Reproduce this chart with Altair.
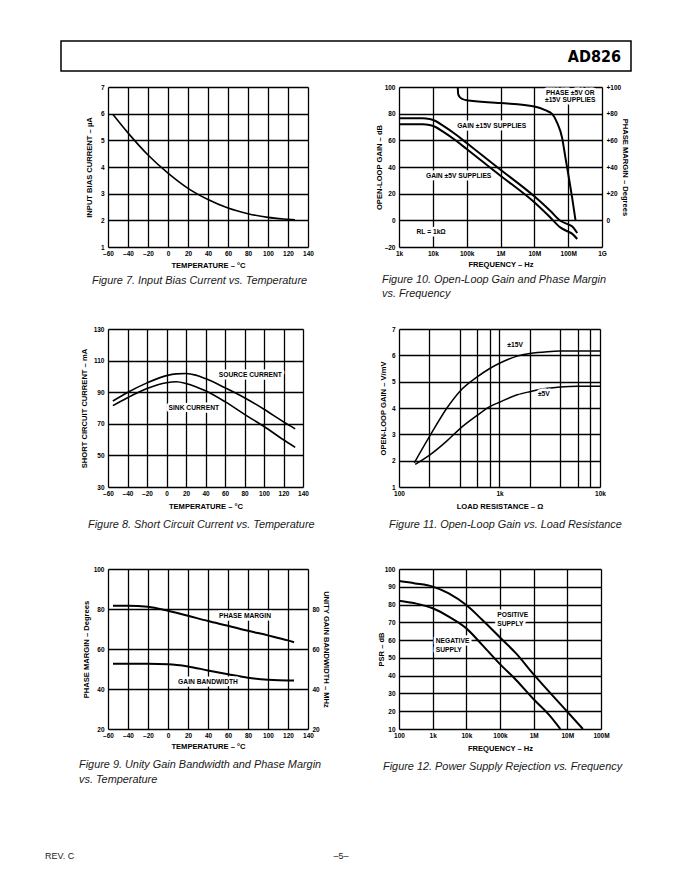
import altair as alt
import pandas as pd

FONT = "Liberation Sans"

# ---------------- page text ----------------
HEADER_TEXT = "AD826"
FOOTER_LEFT = "REV. C"
FOOTER_CENTER = "–5–"

# ---------------- shared temperature axis ----------------
TEMP_TICKS = [-60, -40, -20, 0, 20, 40, 60, 80, 100, 120, 140]
TEMP_LABELS = ["–60", "–40", "–20", "0", "20", "40", "60", "80", "100", "120", "140"]

# ---------------- Figure 7 ----------------
F7_TEMP = [-55, -40, -20, 0, 20, 40, 60, 80, 100, 120, 127]
F7_IB = [5.97, 5.28, 4.45, 3.77, 3.2, 2.78, 2.46, 2.25, 2.11, 2.04, 2.02]
F7_Y_TICKS = [1, 2, 3, 4, 5, 6, 7]
F7_Y_LABELS = ["1", "2", "3", "4", "5", "6", "7"]
F7_CAPTION = ["Figure 7.  Input Bias Current vs. Temperature"]

# ---------------- Figure 10 ----------------
F10_FREQ = [1e3, 5e3, 8e3, 1.2e4, 2e4, 5e4, 1e5, 1e6, 1e7, 3e7, 6e7, 1e8, 1.3e8, 1.85e8]
F10_GAIN_15V = [76.5, 76.5, 76, 74.5, 71, 64, 58, 38, 18, 7, -0.5, -3, -4.5, -9.5]
F10_GAIN_5V = [72, 72, 71.5, 70, 66.5, 59.5, 53.5, 33.5, 13.5, 2, -5.5, -8.5, -10, -14]
F10_PH_FREQ = [5.45e4, 5.6e4, 6.2e4, 7.5e4, 1e5, 1e6, 1e7, 2.1e7, 3.4e7, 4.7e7, 6.6e7, 8.3e7, 1.05e8, 1.31e8, 1.65e8]
F10_PHASE = [100, 95, 92.5, 91, 90, 88, 85.3, 82.6, 79.6, 73.3, 62, 47, 31.8, 17, 0]
F10_X_TICKS = [1e3, 1e4, 1e5, 1e6, 1e7, 1e8, 1e9]
F10_X_LABELS = ["1k", "10k", "100k", "1M", "10M", "100M", "1G"]
F10_Y_TICKS = [-20, 0, 20, 40, 60, 80, 100]
F10_Y_LABELS = ["–20", "0", "20", "40", "60", "80", "100"]
F10_Y2_LABELS = ["", "0", "+20", "+40", "+60", "+80", "+100"]
F10_NOTES = ["PHASE ±5V OR", "±15V SUPPLIES", "GAIN ±15V SUPPLIES", "GAIN ±5V SUPPLIES", "RL = 1kΩ"]
F10_NOTE_X = [1.15e8, 1.15e8, 5.5e5, 5.8e4, 8.9e3]
F10_NOTE_Y = [95.3, 90.2, 70.8, 33.1, -8.7]
F10_CAPTION = ["Figure 10.  Open-Loop Gain and Phase Margin", "vs. Frequency"]

# ---------------- Figure 8 ----------------
F8_TEMP = [-55, -40, -20, 0, 10, 20, 30, 40, 60, 80, 100, 120, 132]
F8_SOURCE = [84.4, 89.8, 95.9, 100.5, 101.6, 101.8, 100.8, 98.6, 92.8, 86.5, 79.2, 71.2, 66.8]
F8_SINK = [81.5, 86.5, 92.3, 96.0, 96.6, 95.5, 93.5, 90.9, 84.0, 76.0, 68.3, 59.9, 55.1]
F8_Y_TICKS = [30, 50, 70, 90, 110, 130]
F8_Y_LABELS = ["30", "50", "70", "90", "110", "130"]
F8_NOTES = ["SOURCE CURRENT", "SINK CURRENT"]
F8_NOTE_X = [86, 28]
F8_NOTE_Y = [100.8, 80]
F8_CAPTION = ["Figure 8.  Short Circuit Current vs. Temperature"]

# ---------------- Figure 11 ----------------
F11_R_15V = [142, 200, 300, 400, 600, 800, 1000, 1500, 2000, 3000, 4000, 10000]
F11_G_15V = [1.92, 2.9, 4.0, 4.62, 5.18, 5.5, 5.7, 5.97, 6.07, 6.14, 6.16, 6.16]
F11_R_5V = [145, 200, 300, 400, 600, 800, 1000, 1500, 2000, 3000, 4000, 6000, 10000]
F11_G_5V = [1.86, 2.2, 2.75, 3.2, 3.72, 4.05, 4.22, 4.5, 4.62, 4.75, 4.8, 4.83, 4.83]
F11_X_TICKS = [100, 200, 400, 600, 800, 1000, 2000, 4000, 6000, 8000, 10000]
F11_X_LABELS = ["100", "", "", "", "", "1k", "", "", "", "", "10k"]
F11_Y_TICKS = [1, 2, 3, 4, 5, 6, 7]
F11_Y_LABELS = ["1", "2", "3", "4", "5", "6", "7"]
F11_NOTES = ["±15V", "±5V"]
F11_NOTE_X = [1430, 2760]
F11_NOTE_Y = [6.4, 4.54]
F11_CAPTION = ["Figure 11.  Open-Loop Gain vs. Load Resistance"]

# ---------------- Figure 9 ----------------
F9_TEMP = [-55, -40, -20, 0, 20, 40, 60, 80, 100, 120, 126]
F9_PM = [81.6, 81.6, 81.1, 79.1, 76.6, 74.0, 71.6, 69.1, 66.8, 64.3, 63.4]
F9_GBW = [52.6, 52.6, 52.6, 52.4, 51.3, 49.3, 47.4, 45.6, 44.6, 44.2, 44.2]
F9_Y_TICKS = [20, 40, 60, 80, 100]
F9_Y_LABELS = ["20", "40", "60", "80", "100"]
F9_Y2_TICKS = [20, 40, 60, 80]
F9_Y2_LABELS = ["20", "40", "60", "80"]
F9_NOTES = ["PHASE MARGIN", "GAIN BANDWIDTH"]
F9_NOTE_X = [77, 40]
F9_NOTE_Y = [76.3, 43.5]
F9_CAPTION = ["Figure 9.  Unity Gain Bandwidth and Phase Margin", "vs. Temperature"]

# ---------------- Figure 12 ----------------
F12_POS_FREQ = [100, 300, 1e3, 3e3, 1e4, 3e4, 1e5, 3e5, 1e6, 1e7, 2.9e7]
F12_POS = [93.2, 91.9, 90.1, 86.3, 79.7, 71.3, 61.5, 52.5, 40.7, 19.7, 10]
F12_NEG_FREQ = [100, 300, 1e3, 3e3, 1e4, 3e4, 1e5, 3e5, 1e6, 3e6, 6.2e6]
F12_NEG = [82.2, 80.7, 77.9, 73.2, 66.6, 57.2, 46.5, 37.6, 26.7, 17.5, 10]
F12_X_TICKS = [1e2, 1e3, 1e4, 1e5, 1e6, 1e7, 1e8]
F12_X_LABELS = ["100", "1k", "10k", "100k", "1M", "10M", "100M"]
F12_Y_TICKS = [10, 20, 30, 40, 50, 60, 70, 80, 90, 100]
F12_Y_LABELS = ["10", "20", "30", "40", "50", "60", "70", "80", "90", "100"]
F12_NOTES = ["POSITIVE", "SUPPLY", "NEGATIVE", "SUPPLY"]
F12_NOTE_X = [8.3e4, 8.3e4, 1.23e3, 1.23e3]
F12_NOTE_Y = [74, 68.9, 59.5, 54.6]
F12_CAPTION = ["Figure 12.  Power Supply Rejection vs. Frequency"]


# ---------------- helpers ----------------
def lab_expr(values, labels):
    e = "''"
    for v, l in reversed(list(zip(values, labels))):
        e = f"datum.value == {v!r} ? '{l}' : ({e})"
    return e


AX_COMMON = dict(
    grid=True, gridColor="black", gridWidth=1.3, gridOpacity=1,
    domain=False, ticks=False,
    labelFont=FONT, labelFontSize=6.5, labelFontWeight="bold", labelColor="black",
    labelOverlap=False, labelFlush=False,
    titleFont=FONT, titleFontSize=7.6, titleFontWeight="bold", titleColor="black",
)

CAP_STYLE = dict(font=FONT, fontSize=10.9, fontStyle="italic", fontWeight="normal",
                 color="#1a1a1a", lineHeight=14.5)


def xax(values, labels, title, title_y):
    return alt.Axis(values=values, labelExpr=lab_expr(values, labels), title=title,
                    labelPadding=3.5, titleY=title_y, titleBaseline="middle",
                    **AX_COMMON)


def yax(values, labels, title, title_x, height, orient="left", grid=True):
    kw = dict(AX_COMMON)
    kw["grid"] = grid
    return alt.Axis(values=values, labelExpr=lab_expr(values, labels), title=title,
                    orient=orient, labelPadding=4, titleX=title_x, titleY=height / 2,
                    titleAngle=270 if orient == "left" else 90, titleAlign="center",
                    titleBaseline="middle", **kw)


def caption(lines, dx, offset=7):
    return alt.TitleParams(text=lines, orient="bottom", anchor="start", frame="group",
                           dx=dx, offset=offset, baseline="top", **CAP_STYLE)


def curves(df, x, y, width=2):
    return alt.Chart(df).mark_line(color="black", strokeWidth=width, interpolate="monotone",
                                   clip=True).encode(x=x, y=y, detail="series:N")


def notes(df, x, y, align="center"):
    base = alt.Chart(df).encode(x=x, y=y, text="text:N")
    halo = base.mark_text(align=align, baseline="middle", font=FONT, fontSize=6.7,
                          fontWeight="bold", color="white", stroke="white",
                          strokeWidth=5, strokeJoin="round")
    txt = base.mark_text(align=align, baseline="middle", font=FONT, fontSize=6.7,
                         fontWeight="bold", color="black")
    return [halo, txt]


def long(pairs):
    rows = []
    for name, xs, ys in pairs:
        for a, b in zip(xs, ys):
            rows.append({"series": name, "x": a, "y": b})
    return pd.DataFrame(rows)


def note_df(texts, xs, ys):
    return pd.DataFrame({"text": texts, "x": xs, "y": ys})


TEMP_SCALE = alt.Scale(domain=[-60, 140], nice=False, zero=False)
H1, H2, H3 = 160, 158, 160

# ---------------- header (decoration drawn above Figure 7) ----------------
hdf = pd.DataFrame({"t": [HEADER_TEXT]})
header_box = alt.Chart(hdf).mark_rect(fill="white", fillOpacity=0, stroke="black",
                                      strokeWidth=1.5).encode(
    x=alt.value(-47), x2=alt.value(523), y=alt.value(-46), y2=alt.value(-16))
header_txt = alt.Chart(hdf).mark_text(
    align="right", baseline="middle", font="DejaVu Sans Condensed, Liberation Sans, sans-serif",
    fontSize=16, fontWeight="bold", color="black").encode(
    x=alt.value(513), y=alt.value(-30), text="t:N")

# ---------------- footer (decoration drawn below Figure 9) ----------------
fdf_l = pd.DataFrame({"t": [FOOTER_LEFT]})
fdf_c = pd.DataFrame({"t": [FOOTER_CENTER]})
footer_l = alt.Chart(fdf_l).mark_text(align="left", baseline="middle", font=FONT, fontSize=9,
                                      color="#222").encode(x=alt.value(-63), y=alt.value(287), text="t:N")
footer_c = alt.Chart(fdf_c).mark_text(align="center", baseline="middle", font=FONT, fontSize=9,
                                      color="#222").encode(x=alt.value(233), y=alt.value(287), text="t:N")
# Figure 9 caption as a text block (its title slot would be pushed below the footer)
f9cap = alt.Chart(pd.DataFrame({"t": ["\n".join(F9_CAPTION)]})).mark_text(
    align="left", baseline="top", lineBreak="\n", **CAP_STYLE).encode(
    x=alt.value(-29), y=alt.value(H3 + 30), text="t:N")

# ---------------- Figure 7 ----------------
f7_x = alt.X("x:Q", scale=TEMP_SCALE,
             axis=xax(TEMP_TICKS, TEMP_LABELS, "TEMPERATURE – °C", 18))
f7_y = alt.Y("y:Q", scale=alt.Scale(domain=[1, 7], nice=False, zero=False),
             axis=yax(F7_Y_TICKS, F7_Y_LABELS, "INPUT BIAS CURRENT – µA", -19, H1))
fig7 = alt.layer(
    curves(long([("ib", F7_TEMP, F7_IB)]), f7_x, f7_y, 1.6),
    header_box, header_txt,
).properties(width=200, height=H1, title=caption(F7_CAPTION, -16, 6))

# ---------------- Figure 10 ----------------
f10_xs = alt.Scale(type="log", domain=[1e3, 1e9], nice=False)
f10_x = alt.X("x:Q", scale=f10_xs,
              axis=xax(F10_X_TICKS, F10_X_LABELS, "FREQUENCY – Hz", 17))
f10_ys = alt.Scale(domain=[-20, 100], nice=False, zero=False)
f10_y = alt.Y("y:Q", scale=f10_ys,
              axis=yax(F10_Y_TICKS, F10_Y_LABELS, "OPEN-LOOP GAIN – dB", -20, H1))
f10_y2 = alt.Y("y:Q", scale=f10_ys,
               axis=yax(F10_Y_TICKS, F10_Y2_LABELS, "PHASE MARGIN – Degrees", 22, H1,
                        orient="right", grid=False))
f10_yn = alt.Y("y:Q", scale=f10_ys, axis=None)
fig10 = alt.layer(
    curves(long([("g15", F10_FREQ, F10_GAIN_15V), ("g5", F10_FREQ, F10_GAIN_5V)]), f10_x, f10_y),
    curves(long([("ph", F10_PH_FREQ, F10_PHASE)]), f10_x, f10_y2),
    *notes(note_df(F10_NOTES, F10_NOTE_X, F10_NOTE_Y), f10_x, f10_yn),
).resolve_scale(y="independent").properties(
    width=203, height=H1, title=caption(F10_CAPTION, -17, 6))

# ---------------- Figure 8 ----------------
f8_x = alt.X("x:Q", scale=TEMP_SCALE,
             axis=xax(TEMP_TICKS, TEMP_LABELS, "TEMPERATURE – °C", 19))
f8_y = alt.Y("y:Q", scale=alt.Scale(domain=[30, 130], nice=False, zero=False),
             axis=yax(F8_Y_TICKS, F8_Y_LABELS, "SHORT CIRCUIT CURRENT – mA", -24, H2))
fig8 = alt.layer(
    curves(long([("src", F8_TEMP, F8_SOURCE), ("snk", F8_TEMP, F8_SINK)]), f8_x, f8_y, 1.6),
    *notes(note_df(F8_NOTES, F8_NOTE_X, F8_NOTE_Y), f8_x, f8_y),
).properties(width=195, height=H2, title=caption(F8_CAPTION, -20, 9))

# ---------------- Figure 11 ----------------
f11_x = alt.X("x:Q", scale=alt.Scale(type="log", domain=[100, 10000], nice=False),
              axis=xax(F11_X_TICKS, F11_X_LABELS, "LOAD RESISTANCE – Ω", 19))
f11_y = alt.Y("y:Q", scale=alt.Scale(domain=[1, 7], nice=False, zero=False),
              axis=yax(F11_Y_TICKS, F11_Y_LABELS, "OPEN-LOOP GAIN – V/mV", -16, H2))
fig11 = alt.layer(
    curves(long([("a", F11_R_15V, F11_G_15V), ("b", F11_R_5V, F11_G_5V)]), f11_x, f11_y, 1.5),
    *notes(note_df(F11_NOTES, F11_NOTE_X, F11_NOTE_Y), f11_x, f11_y),
).properties(width=201, height=H2, title=caption(F11_CAPTION, -10, 9))

# ---------------- Figure 9 ----------------
f9_x = alt.X("x:Q", scale=TEMP_SCALE,
             axis=xax(TEMP_TICKS, TEMP_LABELS, "TEMPERATURE – °C", 17))
f9_ys = alt.Scale(domain=[20, 100], nice=False, zero=False)
f9_y = alt.Y("y:Q", scale=f9_ys,
             axis=yax(F9_Y_TICKS, F9_Y_LABELS, "PHASE MARGIN – Degrees", -22, H3))
f9_y2 = alt.Y("y:Q", scale=f9_ys,
              axis=yax(F9_Y2_TICKS, F9_Y2_LABELS, "UNITY GAIN BANDWIDTH – MHz", 17, H3,
                       orient="right", grid=False))
f9_yn = alt.Y("y:Q", scale=f9_ys, axis=None)
fig9 = alt.layer(
    curves(long([("pm", F9_TEMP, F9_PM)]), f9_x, f9_y),
    curves(long([("gbw", F9_TEMP, F9_GBW)]), f9_x, f9_y2),
    *notes(note_df(F9_NOTES, F9_NOTE_X, F9_NOTE_Y), f9_x, f9_yn),
    f9cap, footer_l, footer_c,
).resolve_scale(y="independent").properties(width=200, height=H3)

# ---------------- Figure 12 ----------------
f12_x = alt.X("x:Q", scale=alt.Scale(type="log", domain=[1e2, 1e8], nice=False),
              axis=xax(F12_X_TICKS, F12_X_LABELS, "FREQUENCY – Hz", 19))
f12_y = alt.Y("y:Q", scale=alt.Scale(domain=[10, 100], nice=False, zero=False),
              axis=yax(F12_Y_TICKS, F12_Y_LABELS, "PSR – dB", -18, H3))
fig12 = alt.layer(
    curves(long([("pos", F12_POS_FREQ, F12_POS), ("neg", F12_NEG_FREQ, F12_NEG)]), f12_x, f12_y),
    *notes(note_df(F12_NOTES, F12_NOTE_X, F12_NOTE_Y), f12_x, f12_y, align="left"),
).properties(width=202, height=H3, title=caption(F12_CAPTION, -16, 9))

# ---------------- layout ----------------
chart = alt.concat(
    fig7, fig10, fig8, fig11, fig9, fig12,
    columns=2, spacing={"row": 82, "column": 91}, bounds="flush",
    padding={"left": 36, "top": 31, "right": 5, "bottom": 5},
).configure_view(stroke="black", strokeWidth=2).configure(font=FONT)

chart.save("out.html", embed_options={"renderer": "svg", "actions": False})
